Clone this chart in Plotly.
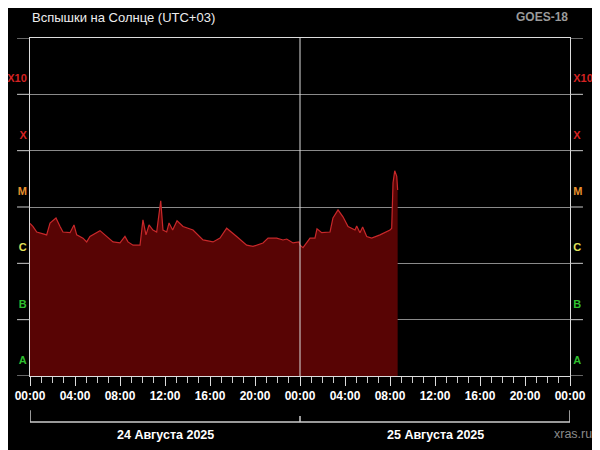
import plotly.graph_objects as go
import pandas as pd

# ---- data ----
hours = [0.0, 0.27, 0.6, 1.48, 1.78, 2.31, 2.67, 2.93, 3.56, 3.91, 4.15, 4.71, 5.04, 5.33,
         6.22, 6.82, 7.38, 8.0, 8.44, 8.71, 9.16, 9.78, 10.04, 10.31, 10.58, 10.93, 11.26,
         11.62, 11.82, 12.15, 12.36, 12.68, 13.07, 13.6, 14.49, 15.38, 16.27, 16.89, 17.48,
         18.37, 19.26, 19.82, 20.71, 21.16, 21.93, 22.49, 22.82, 23.38, 23.91,
         24.0, 24.27, 24.89, 25.33, 25.51, 25.93, 26.67, 26.93, 27.38, 27.82, 28.27, 28.89,
         29.04, 29.33, 29.57, 29.93, 30.37, 31.11, 32.0, 32.15, 32.27, 32.42, 32.6, 32.68]
flux = [5.1e-6, 4.5e-6, 3.6e-6, 3.2e-6, 5.2e-6, 6.4e-6, 4.5e-6, 3.6e-6, 3.5e-6, 4.8e-6, 3.2e-6,
        2.8e-6, 2.4e-6, 3.0e-6, 3.8e-6, 3.0e-6, 2.4e-6, 2.3e-6, 3.0e-6, 2.4e-6, 2.1e-6, 2.1e-6,
        5.9e-6, 3.2e-6, 4.8e-6, 3.9e-6, 3.6e-6, 1.29e-5, 3.9e-6, 3.6e-6, 5.2e-6, 3.9e-6, 5.7e-6,
        4.5e-6, 3.9e-6, 2.6e-6, 2.4e-6, 2.8e-6, 4.2e-6, 3.0e-6, 2.1e-6, 2.0e-6, 2.3e-6, 2.8e-6,
        2.8e-6, 2.6e-6, 2.7e-6, 2.3e-6, 2.4e-6,
        2.1e-6, 1.9e-6, 2.8e-6, 2.8e-6, 4.1e-6, 3.5e-6, 3.6e-6, 6.4e-6, 8.9e-6, 6.7e-6, 4.5e-6,
        3.9e-6, 4.6e-6, 3.5e-6, 4.4e-6, 3.0e-6, 2.8e-6, 3.2e-6, 3.9e-6, 4.2e-6, 2.7e-5, 4.4e-5,
        3.5e-5, 2.0e-5]

class_labels = ["A", "B", "C", "M", "X", "X10"]
class_colors = ["#2fbf2f", "#2fbf2f", "#e0e05a", "#e8902e", "#d42222", "#d42222"]
class_bounds = [1e-8, 1e-7, 1e-6, 1e-5, 1e-4, 1e-3, 1e-2]
label_pos = [1.92e-8, 1.92e-7, 1.92e-6, 1.92e-5, 1.92e-4, 1.92e-3]
day_labels = ["24 Августа 2025", "25 Августа 2025"]
day_starts = ["2025-08-24 00:00", "2025-08-25 00:00", "2025-08-26 00:00"]
day_mids = ["2025-08-24 12:00", "2025-08-25 12:00"]

times = pd.Timestamp("2025-08-24 00:00") + pd.to_timedelta(hours, unit="h")

ticktext = [f'<span style="color:{c}"><b>{t}</b></span>' for t, c in zip(class_labels, class_colors)]

fig = go.Figure()
fig.add_trace(go.Scatter(x=times, y=flux, mode="lines", fill="tozeroy",
                         line=dict(color="#c8282a", width=1.2), fillcolor="#580404",
                         hoverinfo="skip", showlegend=False))
fig.add_trace(go.Scatter(x=[times[0]], y=[flux[0]], yaxis="y2", mode="markers",
                         marker=dict(opacity=0), hoverinfo="skip", showlegend=False))

font = "Liberation Sans"
yax = dict(type="log", range=[-8, -2], tickmode="array", tickvals=label_pos, ticktext=ticktext,
           ticks="", showgrid=False, zeroline=False, showline=True, linecolor="#dddddd",
           linewidth=1, tickfont=dict(family=font, size=11), automargin=False,
           minor=dict(tickmode="array", tickvals=class_bounds, ticks="",
                      showgrid=True, gridcolor="#8a8a8a", gridwidth=1))
fig.update_layout(
    width=600, height=450, paper_bgcolor="black", plot_bgcolor="black",
    margin=dict(l=22, r=38, t=30, b=82, autoexpand=False),
    xaxis=dict(type="date", range=[day_starts[0], day_starts[2]], automargin=False,
               tick0=day_starts[0], dtick=4 * 3600000, tickformat="%H:%M",
               ticks="outside", ticklen=9, tickcolor="#dddddd", showgrid=False,
               showline=True, linecolor="#dddddd", mirror=True, zeroline=False,
               tickfont=dict(family=font, size=12, color="white"),
               minor=dict(dtick=3600000, ticks="outside", ticklen=6, tickcolor="#cccccc")),
    yaxis=yax,
    yaxis2=dict(yax, overlaying="y", side="right"),
    showlegend=False,
)
fig.update_xaxes(tickprefix="<b>", ticksuffix="</b>")

# short outer ticks at class boundaries on both sides
for b in class_bounds:
    for x0, x1 in ((-0.024, 0), (1, 1.024)):
        fig.add_shape(type="line", xref="paper", yref="y", x0=x0, x1=x1, y0=b, y1=b,
                      line=dict(color="#cccccc", width=1))
# vertical divider at day boundary
fig.add_shape(type="line", xref="x", yref="paper", x0=day_starts[1], x1=day_starts[1],
              y0=0, y1=1, line=dict(color="#dddddd", width=1))
# date brackets
fig.add_shape(type="line", xref="x", yref="paper", x0=day_starts[0], x1=day_starts[2],
              y0=-0.136, y1=-0.136, line=dict(color="#cccccc", width=1.5))
for i, d in enumerate(day_starts):
    top = -0.118 if i == 1 else -0.101
    fig.add_shape(type="line", xref="x", yref="paper", x0=d, x1=d, y0=-0.136, y1=top,
                  line=dict(color="#cccccc", width=1.5))
for lbl, m in zip(day_labels, day_mids):
    fig.add_annotation(x=m, y=-0.175, xref="x", yref="paper", text=f"<b>{lbl}</b>",
                       showarrow=False, font=dict(family=font, size=12.5, color="white"),
                       yanchor="middle")

fig.add_annotation(x=0, y=1.062, xref="paper", yref="paper", text="Вспышки на Солнце (UTC+03)",
                   showarrow=False, font=dict(family=font, size=13, color="#eeeeee"),
                   xanchor="left", yanchor="middle")
fig.add_annotation(x=1, y=1.062, xref="paper", yref="paper", text="<b>GOES-18</b>",
                   showarrow=False, font=dict(family=font, size=12, color="#9a9a9a"),
                   xanchor="right", yanchor="middle")
fig.add_annotation(x=1.045, y=-0.172, xref="paper", yref="paper", text="xras.ru",
                   showarrow=False, font=dict(family=font, size=12.5, color="#8a8a8a"),
                   xanchor="right", yanchor="middle")

fig.write_html("out.html")
